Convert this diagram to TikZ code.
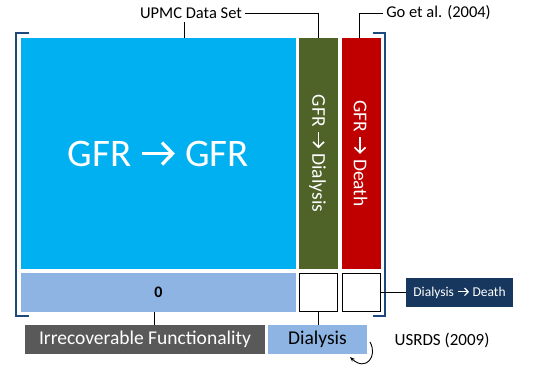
\documentclass[tikz,border=0pt]{standalone}
\usepackage{fontspec}
\setmainfont{Carlito}
\usetikzlibrary{arrows.meta}
\definecolor{cellblue}{HTML}{00B0F0}
\definecolor{cellgreen}{HTML}{4F6228}
\definecolor{cellred}{HTML}{C00000}
\definecolor{lightblue}{HTML}{8EB4E3}
\definecolor{darkgray}{HTML}{595959}
\definecolor{navy}{HTML}{17375E}
\definecolor{bracket}{HTML}{1F497D}
% arrow glyph drawn in the current text colour
\newcommand{\goesto}{\tikz[baseline=0pt]\draw[line width=.085em, -{Straight Barb[length=.27em, width=.56em, line width=.085em]}] (0,.32em) -- (.84em,.32em);}
\tikzset{
	cell/.style={inner sep=0pt, minimum height=231pt},
	lowcell/.style={inner sep=0pt, minimum height=39pt},
	tag/.style={inner sep=0pt, minimum height=29pt, font=\fontsize{19.5}{19.5}\selectfont},
	note/.style={font=\fontsize{16.5}{16.5}\selectfont},
	callout/.style={black, line width=0.9pt},
	brace/.style={bracket, line width=2.4pt}
}
\begin{document}
\begin{tikzpicture}[x=1pt,y=-1pt]
	\useasboundingbox (0,0) rectangle (533,367);
	% upper row
	\node[cell, fill=cellblue, minimum width=275pt, text=white, font=\fontsize{39}{39}\selectfont] (gfr) at (158.5,153.5) {GFR \goesto{} GFR};
	\node[cell, fill=cellgreen, minimum width=39pt] (dia) at (318.5,153.5) {};
	\node[cell, fill=cellred, minimum width=39pt] (dea) at (361.5,153.5) {};
	\node[rotate=-90, text=white, font=\fontsize{19.5}{19.5}\selectfont] at ([xshift=-1pt]dia.center) {GFR \goesto{} Dialysis};
	\node[rotate=-90, text=white, font=\fontsize{19.5}{19.5}\selectfont] at ([xshift=-1pt]dea.center) {GFR \goesto{} Death};
	% lower row
	\node[lowcell, fill=lightblue, minimum width=275pt, font=\fontsize{16}{16}\selectfont\bfseries] (zero) at (158.5,292.5) {0};
	\node[lowcell, draw=black, line width=1.1pt, fill=white, minimum width=38pt, minimum height=38pt] (sqa) at (318.5,292.5) {};
	\node[lowcell, draw=black, line width=1.1pt, fill=white, minimum width=38pt, minimum height=38pt] (sqb) at (361.5,292.5) {};
	% brackets
	\draw[brace] (29,33) -- (16,33) -- (16,316) -- (29,316);
	\draw[brace] (373,33) -- (385,33) -- (385,316) -- (373,316);
	% labels
	\node[note] (upmc) at (191,13) {UPMC Data Set};
	\node[note] (go) at (438.5,13) {Go et al. (2004)};
	\node[tag, fill=darkgray, text=white, minimum width=240pt] (irr) at (145,339.5) {Irrecoverable Functionality};
	\node[tag, fill=lightblue, minimum width=99pt] (dial) at (317.5,339.5) {Dialysis};
	\node[tag, fill=navy, text=white, minimum width=107pt, font=\fontsize{13.5}{13.5}\selectfont] (dd) at (459.5,292.5) {Dialysis \goesto{} Death};
	\node[note, font=\fontsize{17}{17}\selectfont] (usrds) at (442,340) {USRDS (2009)};
	% connectors
	\draw[callout] (upmc.east) -| (dia.north);
	\draw[callout] ([xshift=-7pt]upmc.south) -- ([xshift=-7pt]upmc.south |- gfr.north);
	\draw[callout] (go.west) -| ([xshift=-2pt]dea.north);
	\draw[callout] ([xshift=9pt]irr.north) -- ([xshift=9pt]irr.north |- zero.south);
	\draw[callout] (sqa.south) -- (sqa.south |- dial.north);
	\draw[callout] (sqb.east) -- (dd.west);
	\coordinate (loop) at (370,342);
	\draw[callout, -{Stealth[length=5pt]}] (loop) .. controls (378,356) and (366,372) .. (350,357);
\end{tikzpicture}
\end{document}
